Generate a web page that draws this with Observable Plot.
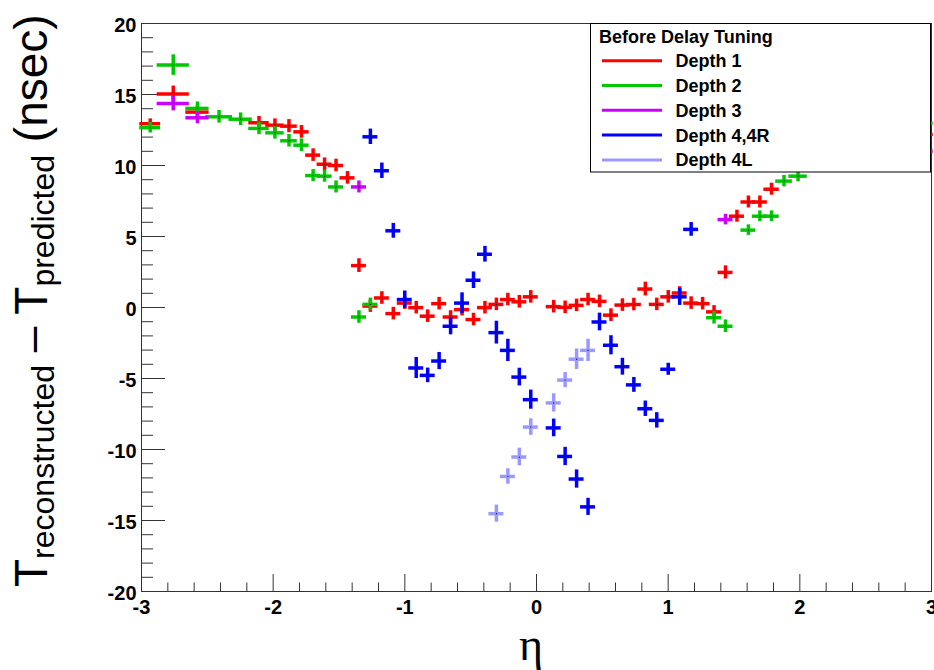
<!DOCTYPE html>
<html>
<head>
<meta charset="utf-8">
<script src="https://cdn.jsdelivr.net/npm/d3@7"></script>
<script src="https://cdn.jsdelivr.net/npm/@observablehq/plot@0.6"></script>
<style>
  html, body { margin: 0; padding: 0; background: #fff; }
  #chart svg { display: block; }
</style>
</head>
<body>
<div id="chart"></div>
<script>
// ---- Tower geometry (|eta| centers and half widths of the bins) ----
const towerCenter = [0.0435,0.1305,0.2175,0.3045,0.3915,0.4785,0.5655,0.6525,0.7395,0.8265,0.9135,1.0005,1.0875,1.1745,1.2615,1.3485,
  1.4355,1.5225,1.6095,1.6965,1.785,1.88,1.9865,2.1075,2.247,2.411,2.575,2.759,2.934];
const towerHalfWidth = [0.0435,0.0435,0.0435,0.0435,0.0435,0.0435,0.0435,0.0435,0.0435,0.0435,0.0435,0.0435,0.0435,0.0435,0.0435,0.0435,
  0.0435,0.0435,0.0435,0.0435,0.045,0.05,0.0565,0.0645,0.075,0.089,0.075,0.109,0.066];

// ---- Depth 1 (red) ----
const depth1Eta = [-2.934,-2.759,-2.575,-2.1075,-1.9865,-1.88,-1.785,-1.6965,-1.6095,-1.5225,-1.4355,-1.3485,-1.2615,-1.1745,-1.0875,-1.0005,
  -0.9135,-0.8265,-0.7395,-0.6525,-0.5655,-0.4785,-0.3915,-0.3045,-0.2175,-0.1305,-0.0435,
  0.1305,0.2175,0.3045,0.3915,0.4785,0.5655,0.6525,0.7395,0.8265,0.9135,1.0005,1.0875,1.1745,1.2615,1.3485,1.4355,1.5225,1.6095,1.6965,1.785,2.934];
const depth1Dt = [12.94,15.03,13.76,13.01,12.84,12.77,12.37,10.73,10.09,10.0,9.13,2.95,0.1,0.67,-0.43,0.31,
  -0.01,-0.61,0.27,-0.67,-0.15,-0.85,-0.01,0.22,0.56,0.40,0.75,
  0.06,0.01,0.15,0.56,0.43,-0.54,0.17,0.21,1.30,0.22,0.75,1.02,0.31,0.27,-0.31,2.47,6.43,7.43,7.43,8.33,12.19];
const depth1Err = [0.22,0.44,0.30,0.32,0.32,0.34,0.32,0.32,0.32,0.32,0.32,0.36,0.32,0.32,0.32,0.32,
  0.32,0.32,0.32,0.32,0.32,0.32,0.32,0.32,0.32,0.32,0.32,
  0.32,0.32,0.32,0.32,0.32,0.32,0.32,0.32,0.36,0.32,0.32,0.32,0.32,0.32,0.32,0.34,0.30,0.30,0.30,0.30,0.30];

// ---- Depth 2 (green) ----
const depth2Eta = [-2.934,-2.759,-2.575,-2.411,-2.247,-2.1075,-1.9865,-1.88,-1.785,-1.6965,-1.6095,-1.5225,-1.3485,-1.2615,
  1.3485,1.4355,1.6095,1.6965,1.785,1.88,1.9865,2.934];
const depth2Dt = [12.66,17.07,14.02,13.43,13.26,12.61,12.3,11.74,11.43,9.29,9.25,8.49,-0.67,0.22,
  -0.72,-1.32,5.45,6.43,6.43,8.9,9.25,12.97];
const depth2Err = [0.25,0.60,0.33,0.32,0.32,0.32,0.32,0.32,0.32,0.30,0.30,0.30,0.32,0.32,
  0.32,0.32,0.25,0.25,0.25,0.28,0.28,0.30];

// ---- Depth 3 (violet) ----
const depth3Eta = [-2.759,-2.575,-1.3485,1.4355,2.934];
const depth3Dt = [14.37,13.36,8.49,6.19,11.01];
const depth3Err = [0.40,0.30,0.30,0.25,0.30];

// ---- Depth 4,4R (blue) ----
const depth4Eta = [-1.2615,-1.1745,-1.0875,-1.0005,-0.9135,-0.8265,-0.7395,-0.6525,-0.5655,-0.4785,-0.3915,-0.3045,-0.2175,-0.1305,-0.0435,
  0.1305,0.2175,0.3045,0.3915,0.4785,0.5655,0.6525,0.7395,0.8265,0.9135,1.0005,1.0875,1.1745];
const depth4Dt = [12.02,9.63,5.4,0.56,-4.26,-4.78,-3.77,-1.32,0.31,1.92,3.75,-1.77,-3.02,-4.9,-6.49,
  -8.48,-10.49,-12.08,-14.04,-1.02,-2.66,-4.17,-5.45,-7.13,-7.95,-4.35,0.75,5.5];
const depth4Err = [0.42,0.42,0.40,0.48,0.62,0.39,0.48,0.48,0.60,0.46,0.43,0.68,0.66,0.50,0.55,
  0.50,0.52,0.52,0.48,0.50,0.55,0.47,0.40,0.42,0.42,0.30,0.48,0.36];

// ---- Depth 4L (light blue) ----
const depth4LEta = [-0.3045,-0.2175,-0.1305,-0.0435,0.1305,0.2175,0.3045,0.3915];
const depth4LDt = [-14.52,-11.9,-10.53,-8.42,-6.72,-5.11,-3.64,-3.02];
const depth4LErr = [0.48,0.42,0.50,0.46,0.52,0.41,0.60,0.66];

// ---- Legend / axes text ----
const legendTitle = "Before Delay Tuning";
const seriesNames = ["Depth 1","Depth 2","Depth 3","Depth 4,4R","Depth 4L"];
const seriesColors = ["#ff0000","#00c800","#cc00ff","#0000ff","#9999ff"];
const xMajorTicks = [-3,-2,-1,0,1,2,3];
const yMajorTicks = [-20,-15,-10,-5,0,5,10,15,20];

const xMinorTicks = d3.range(-3, 3.0001, 0.2).map(v => Math.round(v*10)/10).filter(v => !xMajorTicks.includes(v));
const yMinorTicks = d3.range(-20, 20.0001, 1).filter(v => !yMajorTicks.includes(v));

function halfWidth(eta) {
  const a = Math.abs(eta);
  let best = 0;
  towerCenter.forEach((c, i) => { if (Math.abs(c - a) < Math.abs(towerCenter[best] - a)) best = i; });
  return towerHalfWidth[best];
}

function seriesMarks(eta, dt, err, color) {
  const rows = eta.map((e, i) => ({eta: e, dt: dt[i], err: err[i], hw: halfWidth(e)}));
  return [
    Plot.ruleY(rows, {y: "dt", x1: d => d.eta - d.hw, x2: d => d.eta + d.hw, stroke: color, strokeWidth: 3.5, strokeLinecap: "square"}),
    Plot.ruleX(rows, {x: "eta", y1: d => d.dt - d.err, y2: d => d.dt + d.err, stroke: color, strokeWidth: 3.5, strokeLinecap: "square"}),
    Plot.dot(rows, {x: "eta", y: "dt", r: 0.6, fill: "#000", stroke: null})
  ];
}

const W = 934, H = 670, ML = 141, MR = 3, MT = 23, MB = 79;
const plotW = W - ML - MR, plotH = H - MT - MB;
const font = "'Liberation Sans', Arial, Helvetica, sans-serif";

const svg = Plot.plot({
  width: W, height: H,
  marginLeft: ML, marginRight: MR, marginTop: MT, marginBottom: MB,
  x: {domain: [-3, 3]},
  y: {domain: [-20, 20]},
  style: {fontFamily: font, background: "#fff", color: "#000"},
  marks: [
    Plot.tickX(xMajorTicks, {x: d => d, insetTop: plotH - 17, stroke: "#333", strokeWidth: 1}),
    Plot.tickX(xMinorTicks, {x: d => d, insetTop: plotH - 8.5, stroke: "#333", strokeWidth: 1}),
    Plot.tickY(yMajorTicks, {y: d => d, insetRight: plotW - 24, stroke: "#333", strokeWidth: 1}),
    Plot.tickY(yMinorTicks, {y: d => d, insetRight: plotW - 12, stroke: "#333", strokeWidth: 1}),
    Plot.frame({stroke: "#333", strokeWidth: 1}),
    Plot.axisX({ticks: xMajorTicks, tickSize: 0, tickPadding: 8, tickFormat: d => String(d), fontSize: 20, fontWeight: "bold", label: null}),
    Plot.axisY({ticks: yMajorTicks, tickSize: 0, tickPadding: 5, dy: 2, tickFormat: d => String(d), fontSize: 20, fontWeight: "bold", label: null}),
    ...seriesMarks(depth1Eta, depth1Dt, depth1Err, seriesColors[0]),
    ...seriesMarks(depth2Eta, depth2Dt, depth2Err, seriesColors[1]),
    ...seriesMarks(depth3Eta, depth3Dt, depth3Err, seriesColors[2]),
    ...seriesMarks(depth4Eta, depth4Dt, depth4Err, seriesColors[3]),
    ...seriesMarks(depth4LEta, depth4LDt, depth4LErr, seriesColors[4])
  ]
});

const root = d3.select(svg);

// Y title with subscripts
const yt = root.append("text")
  .attr("transform", "translate(47,587) rotate(-90)")
  .attr("text-anchor", "start")
  .attr("font-family", font).attr("font-size", 46).attr("fill", "#000");
yt.append("tspan").text("T");
yt.append("tspan").attr("font-size", 32).attr("dy", 7).text("reconstructed");
yt.append("tspan").attr("dy", -7).text(" \u2013 T");
yt.append("tspan").attr("font-size", 32).attr("dy", 7).text("predicted");
yt.append("tspan").attr("dy", -7).text(" (nsec)");

// X title
root.append("text")
  .attr("x", 531).attr("y", 660).attr("text-anchor", "middle")
  .attr("font-family", "'Liberation Serif', 'DejaVu Serif', serif").attr("font-size", 46)
  .attr("fill", "#000").text("\u03b7");

// Legend box
const lg = root.append("g").attr("text-anchor", "start");
lg.append("rect").attr("x", 590.5).attr("y", 23.5).attr("width", 340).attr("height", 148.5)
  .attr("fill", "#fff").attr("stroke", "#000").attr("stroke-width", 1);
lg.append("text").attr("x", 599).attr("y", 42.5).attr("text-anchor", "start").attr("font-family", font).attr("font-size", 18)
  .attr("font-weight", "bold").attr("fill", "#000").text(legendTitle);
seriesNames.forEach((name, i) => {
  const yy = 60.7 + i * 24.8;
  lg.append("line").attr("x1", 602).attr("x2", 662).attr("y1", yy).attr("y2", yy)
    .attr("stroke", seriesColors[i]).attr("stroke-width", 3);
  lg.append("text").attr("x", 675.5).attr("y", yy + 6.5).attr("text-anchor", "start").attr("font-family", font).attr("font-size", 18)
    .attr("font-weight", "bold").attr("fill", "#000").text(name);
});

document.getElementById("chart").appendChild(svg);
</script>
</body>
</html>
